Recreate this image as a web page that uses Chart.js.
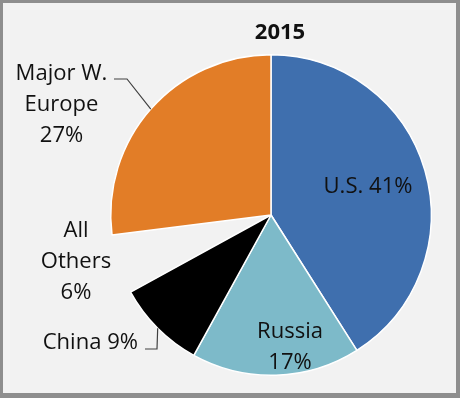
<!DOCTYPE html>
<html>
<head>
<meta charset="utf-8">
<script src="https://cdn.jsdelivr.net/npm/chart.js@4/dist/chart.umd.min.js"></script>
<style>
  body { margin: 0; background: #fff; }
  #wrap { position: relative; width: 460px; height: 398px; }
  #frame { position: absolute; left: 0; top: 0; width: 460px; height: 398px; box-sizing: border-box;
           border-style: solid; border-color: #8e8e8e; border-width: 3px 4px 5px 3px; background: #f2f2f2; }
  canvas { position: absolute; left: 0; top: 0; }
</style>
</head>
<body>
<div id="wrap">
  <div id="frame"></div>
  <canvas id="pie" width="460" height="398"></canvas>
</div>
<script>
const title = '2015';
const categories = ['U.S.', 'Russia', 'China', 'All Others', 'Major W. Europe'];
const shares = [41, 17, 9, 6, 27];
const labelLines = [['U.S. 41%'], ['Russia', '17%'], ['China 9%'], ['All', 'Others', '6%'], ['Major W.', 'Europe', '27%']];
const colors = ['#3f6fae', '#7dbac9', '#000000', 'rgba(0,0,0,0)', '#e27d27'];

// label anchor relative to pie centre (first baseline), optional leader elbow points
const labelLayout = [
  { dx: 97, dy: -22, align: 'center' },
  { dx: 19, dy: 123, align: 'center' },
  { dx: -133, dy: 134, align: 'right', leader: [[-126, 134], [-114, 134]] },
  { dx: -195, dy: 22, align: 'center' },
  { dx: -209.5, dy: -135, align: 'center', leader: [[-157, -136], [-144, -136]] }
];

const FONT = '"Open Sans", sans-serif';
const SX = 1.05; // source picture is slightly stretched sideways
const LINE_H = 31;

function stretchedText(ctx, txt, x, y, align) {
  ctx.save();
  ctx.translate(x, y);
  ctx.scale(SX, 1);
  ctx.textAlign = align;
  ctx.fillText(txt, 0, 0);
  ctx.restore();
}

const pieLabels = {
  id: 'pieLabels',
  afterDatasetsDraw(chart) {
    const ctx = chart.ctx;
    const arcs = chart.getDatasetMeta(0).data;
    const c = arcs[0].getProps(['x', 'y']);
    ctx.save();
    ctx.fillStyle = '#111';
    ctx.textBaseline = 'alphabetic';

    ctx.font = 'bold 21px ' + FONT;
    stretchedText(ctx, title, c.x + 9, c.y - 176, 'center');

    ctx.font = '21px ' + FONT;
    arcs.forEach((arc, i) => {
      const p = arc.getProps(['x', 'y', 'startAngle', 'endAngle', 'outerRadius']);
      const lay = labelLayout[i];
      labelLines[i].forEach((ln, k) => {
        stretchedText(ctx, ln, p.x + lay.dx, p.y + lay.dy + k * LINE_H, lay.align);
      });
      if (lay.leader) {
        const mid = (p.startAngle + p.endAngle) / 2;
        ctx.beginPath();
        ctx.strokeStyle = '#404040';
        ctx.lineWidth = 1.2;
        ctx.moveTo(p.x + lay.leader[0][0], p.y + lay.leader[0][1]);
        ctx.lineTo(p.x + lay.leader[1][0], p.y + lay.leader[1][1]);
        ctx.lineTo(p.x + Math.cos(mid) * p.outerRadius, p.y + Math.sin(mid) * p.outerRadius);
        ctx.stroke();
      }
    });
    ctx.restore();
  }
};

new Chart(document.getElementById('pie'), {
  type: 'pie',
  data: {
    labels: categories,
    datasets: [{
      data: shares,
      backgroundColor: colors,
      borderColor: '#ffffff',
      borderWidth: [1.5, 1.5, 1.5, 0, 1.5]
    }]
  },
  options: {
    responsive: false,
    animation: false,
    layout: { padding: { left: 110, right: 28, top: 54, bottom: 22 } },
    plugins: { legend: { display: false }, tooltip: { enabled: false } }
  },
  plugins: [pieLabels]
});
</script>
</body>
</html>
